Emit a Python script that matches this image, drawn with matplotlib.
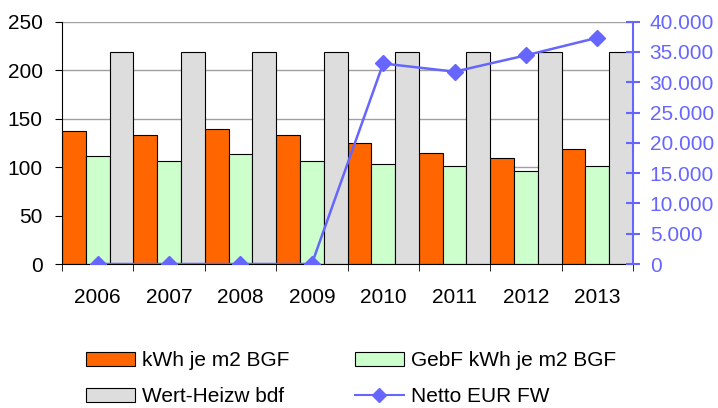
import matplotlib
matplotlib.use("Agg")
import matplotlib.pyplot as plt
import numpy as np
from matplotlib.ticker import FuncFormatter, MultipleLocator, FixedLocator
from matplotlib.patches import Patch
from matplotlib.lines import Line2D

years = ["2006", "2007", "2008", "2009", "2010", "2011", "2012", "2013"]
kwh = [137, 133, 139, 133, 125, 115, 109, 119]
gebf = [111, 106, 113, 106, 103, 101, 96, 101]
wert = [219, 219, 219, 219, 219, 219, 219, 219]
netto = [0, 0, 0, 0, 33100, 31750, 34450, 37350]
labels = ['kWh je m2 BGF', 'GebF kWh je m2 BGF', 'Wert-Heizw bdf', 'Netto EUR FW']

plt.rcParams['font.family'] = ['Liberation Sans', 'DejaVu Sans']
plt.rcParams['font.size'] = 15

BLUE = '#6666FF'
ORANGE = '#FF6600'
GREEN = '#CCFFCC'
GRAY = '#DDDDDD'

fig = plt.figure(figsize=(7.18, 4.08), dpi=100)
ax = fig.add_axes([62/718, 1-264/408, (633-62)/718, (264-21.7)/408])
x = np.arange(len(years))
w = 1/3
ax.bar(x - w, kwh, width=w, color=ORANGE, edgecolor='black', linewidth=0.8, zorder=2)
ax.bar(x, gebf, width=w, color=GREEN, edgecolor='black', linewidth=0.8, zorder=2)
ax.bar(x + w, wert, width=w, color=GRAY, edgecolor='black', linewidth=0.8, zorder=2)
ax.set_xlim(-0.5, len(years) - 0.5)
ax.set_ylim(0, 250)
ax.yaxis.set_major_locator(MultipleLocator(50))
ax.grid(axis='y', color='#A0A0A0', linewidth=1, zorder=0)
ax.set_axisbelow(True)
ax.set_xticks(x)
ax.set_xticklabels(years)
ax.xaxis.set_minor_locator(FixedLocator(np.arange(-0.5, len(years), 1.0)))
ax.tick_params(axis='x', which='major', length=0, pad=17)
ax.tick_params(axis='x', which='minor', length=5, color='black')
ax.tick_params(axis='y', length=5, color='black', pad=9)
for s in ['top', 'right']:
    ax.spines[s].set_visible(False)
ax.spines['left'].set_color('black')
ax.spines['bottom'].set_color('black')

ax2 = ax.twinx()
ax2.plot(x, netto, color=BLUE, linewidth=1.8, marker='D', markersize=8.5, zorder=5)
ax2.set_ylim(0, 40000)
ax2.yaxis.set_major_locator(MultipleLocator(5000))
ax2.yaxis.set_major_formatter(FuncFormatter(lambda v, p: f"{v:,.0f}".replace(',', '.')))
for s in ['top', 'left', 'bottom']:
    ax2.spines[s].set_visible(False)
ax2.spines['right'].set_color(BLUE)
ax2.spines['right'].set_linewidth(1.5)
ax2.tick_params(axis='y', colors=BLUE, direction='inout', length=10, width=1.5, pad=7)

h_kwh = Patch(facecolor=ORANGE, edgecolor='black', linewidth=0.8)
h_gebf = Patch(facecolor=GREEN, edgecolor='black', linewidth=0.8)
h_wert = Patch(facecolor=GRAY, edgecolor='black', linewidth=0.8)
h_net = Line2D([0], [0], color=BLUE, linewidth=1.5, marker='D', markersize=7)

kw = dict(loc='upper left', frameon=False, borderpad=0, borderaxespad=0, handlelength=2.35,
          handleheight=0.67, handletextpad=0.35, labelspacing=0.82, fontsize=15)
leg1 = fig.legend([h_kwh, h_wert], [labels[0], labels[2]], bbox_to_anchor=(86/718, 1-351/408), **kw)
leg2 = fig.legend([h_gebf, h_net], [labels[1], labels[3]], bbox_to_anchor=(355/718, 1-351/408), **kw)

fig.savefig('out.png', dpi=100)
